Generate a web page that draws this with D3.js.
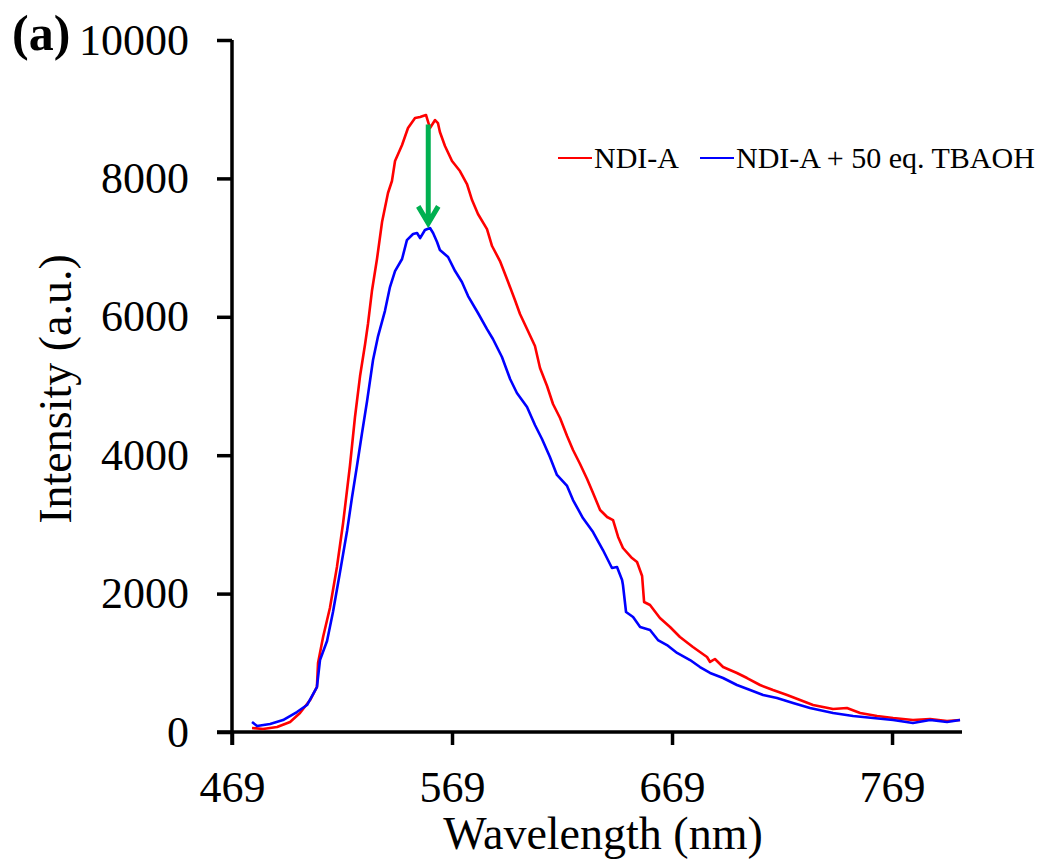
<!DOCTYPE html>
<html>
<head>
<meta charset="utf-8">
<script src="https://cdn.jsdelivr.net/npm/d3@7"></script>
<style>
  body { margin: 0; background: #fff; }
  svg { font-family: "Liberation Serif", "Times New Roman", serif; }
</style>
</head>
<body>
<div id="vis"></div>
<script>
// emission spectra (nm, a.u.)
const redWl = [478.1, 483.1, 489.5, 495.4, 499.9, 504.5, 507.6, 508.1, 510.4, 513.5, 516.7, 519.5, 522.6, 524.9, 527.2, 529.5, 530.8, 532.6, 534.9, 537.2, 539.9, 541.7, 543.1, 546.3, 549.0, 552.2, 554.5, 555.8, 557.2, 559.0, 561.3, 562.6, 563.5, 565.8, 569.0, 572.6, 575.8, 578.1, 580.8, 584.9, 587.2, 590.8, 594.5, 597.6, 599.9, 603.1, 606.7, 609.0, 612.2, 614.9, 618.1, 621.3, 624.0, 627.2, 630.4, 633.1, 636.3, 639.5, 642.2, 644.5, 646.7, 650.8, 653.1, 655.4, 656.3, 659.0, 663.5, 668.1, 672.6, 678.5, 684.9, 686.3, 688.5, 692.2, 698.5, 703.1, 709.0, 714.9, 721.3, 727.2, 733.1, 742.2, 748.5, 754.5, 762.2, 769.5, 778.5, 786.3, 794.0, 799.9];
const redInt = [58, 43, 72, 145, 275, 462, 650, 997, 1373, 1792, 2384, 3020, 3844, 4552, 5144, 5607, 5896, 6372, 6835, 7370, 7789, 7962, 8251, 8482, 8728, 8872, 8887, 8901, 8916, 8728, 8843, 8800, 8670, 8468, 8251, 8106, 7919, 7687, 7485, 7268, 7023, 6806, 6503, 6242, 6040, 5823, 5578, 5260, 5000, 4740, 4537, 4277, 4075, 3873, 3656, 3454, 3208, 3107, 3063, 2818, 2659, 2514, 2457, 2254, 1879, 1835, 1647, 1517, 1373, 1228, 1084, 1012, 1055, 939, 853, 780, 679, 607, 535, 462, 390, 332, 347, 275, 231, 202, 173, 188, 159, 173];

const blueWl = [478.1, 480.4, 486.3, 492.2, 498.5, 503.1, 507.6, 509.0, 512.2, 514.9, 518.1, 521.3, 523.5, 525.8, 528.1, 530.4, 533.1, 535.4, 538.5, 540.8, 543.1, 546.3, 548.5, 551.3, 553.1, 554.5, 556.7, 559.0, 560.4, 562.2, 563.5, 567.2, 570.4, 573.5, 576.3, 580.8, 584.9, 587.6, 591.7, 595.4, 598.5, 603.1, 606.7, 609.9, 613.5, 616.7, 621.3, 624.0, 628.5, 633.1, 637.6, 641.7, 644.0, 646.3, 646.7, 648.1, 651.3, 654.5, 659.0, 662.6, 666.7, 671.3, 677.2, 681.7, 686.3, 692.2, 698.5, 704.5, 710.4, 716.7, 724.0, 731.7, 742.2, 751.3, 760.4, 769.5, 778.5, 786.3, 794.0, 799.9];
const blueInt = [145, 87, 116, 173, 289, 390, 650, 1040, 1315, 1734, 2312, 2904, 3381, 3844, 4321, 4783, 5375, 5722, 6083, 6430, 6661, 6835, 7109, 7196, 7211, 7138, 7254, 7283, 7211, 7080, 6965, 6864, 6661, 6503, 6300, 6055, 5823, 5679, 5419, 5101, 4899, 4696, 4436, 4234, 3974, 3714, 3555, 3352, 3092, 2890, 2630, 2370, 2384, 2196, 2124, 1734, 1662, 1517, 1474, 1329, 1257, 1142, 1040, 939, 853, 780, 679, 607, 535, 491, 419, 347, 275, 231, 202, 173, 130, 173, 145, 173];

const xTicks = [469, 569, 669, 769];
const yTicks = [0, 2000, 4000, 6000, 8000, 10000];
const seriesNames = ["NDI-A", "NDI-A + 50 eq. TBAOH"];
const seriesColors = ["#ff0000", "#0000ff"];
// arrow marks the drop at the emission maximum
const arrowAt = { wl: 558.2, from: 8780, to: 7350 };

const W = 1047, H = 865;
const margin = { top: 40, right: 85, bottom: 133, left: 232 };

const svg = d3.select("#vis").append("svg")
  .attr("width", W)
  .attr("height", H);

const x = d3.scaleLinear()
  .domain([469, 800.8])
  .range([margin.left, W - margin.right]);

const y = d3.scaleLinear()
  .domain([0, 10000])
  .range([H - margin.bottom, margin.top]);

// axes
const xAxis = svg.append("g")
  .attr("transform", `translate(0,${y(0)})`)
  .call(d3.axisBottom(x).tickValues(xTicks).tickSize(13).tickSizeOuter(0).tickPadding(26));
const yAxis = svg.append("g")
  .attr("transform", `translate(${x(469)},0)`)
  .call(d3.axisLeft(y).tickValues(yTicks).tickFormat(d3.format("d"))
    .tickSize(15).tickSizeOuter(0).tickPadding(28));

[xAxis, yAxis].forEach(g => {
  g.select(".domain").attr("stroke", "#000").attr("stroke-width", 3.5);
  g.selectAll(".tick line").attr("stroke", "#000").attr("stroke-width", 3.5);
  g.selectAll(".tick text")
    .attr("fill", "#000")
    .style("font-family", "Liberation Serif, serif")
    .style("font-size", "44px");
});
xAxis.select(".domain").attr("d", `M${x(469) - 15},0H${x.range()[1]}`);
yAxis.select(".domain").attr("d", `M0,${y(0) + 13}V${y(10000)}`);

// axis titles
svg.append("text")
  .attr("x", 603)
  .attr("y", 849)
  .attr("text-anchor", "middle")
  .style("font-size", "46px")
  .text("Wavelength (nm)");

svg.append("text")
  .attr("transform", `translate(71,${(y(0) + y(10000)) / 2 + 3}) rotate(-90)`)
  .attr("text-anchor", "middle")
  .style("font-size", "46px")
  .text("Intensity (a.u.)");

svg.append("text")
  .attr("x", 12)
  .attr("y", 50)
  .style("font-size", "50px")
  .style("font-weight", "bold")
  .text("(a)");

// spectra
const line = d3.line()
  .x(d => x(d[0]))
  .y(d => y(d[1]));

const series = [
  d3.zip(redWl, redInt),
  d3.zip(blueWl, blueInt)
];

series.forEach((s, i) => {
  svg.append("path")
    .datum(s)
    .attr("fill", "none")
    .attr("stroke", seriesColors[i])
    .attr("stroke-width", 2.6)
    .attr("stroke-linejoin", "round")
    .attr("d", line);
});

// green arrow
const ax = x(arrowAt.wl);
svg.append("path")
  .attr("d", `M${ax},${y(arrowAt.from)}V${y(arrowAt.to)}M${ax - 10},${y(arrowAt.to) - 17}L${ax},${y(arrowAt.to)}L${ax + 10},${y(arrowAt.to) - 17}`)
  .attr("fill", "none")
  .attr("stroke", "#00b050")
  .attr("stroke-width", 5);

// legend
const legendX = [558, 700];
const legendY = 158;
seriesNames.forEach((name, i) => {
  svg.append("line")
    .attr("x1", legendX[i]).attr("x2", legendX[i] + 34)
    .attr("y1", legendY).attr("y2", legendY)
    .attr("stroke", seriesColors[i])
    .attr("stroke-width", 2);
  svg.append("text")
    .attr("x", legendX[i] + 36)
    .attr("y", legendY + 10)
    .style("font-size", "30px")
    .text(name);
});
</script>
</body>
</html>
